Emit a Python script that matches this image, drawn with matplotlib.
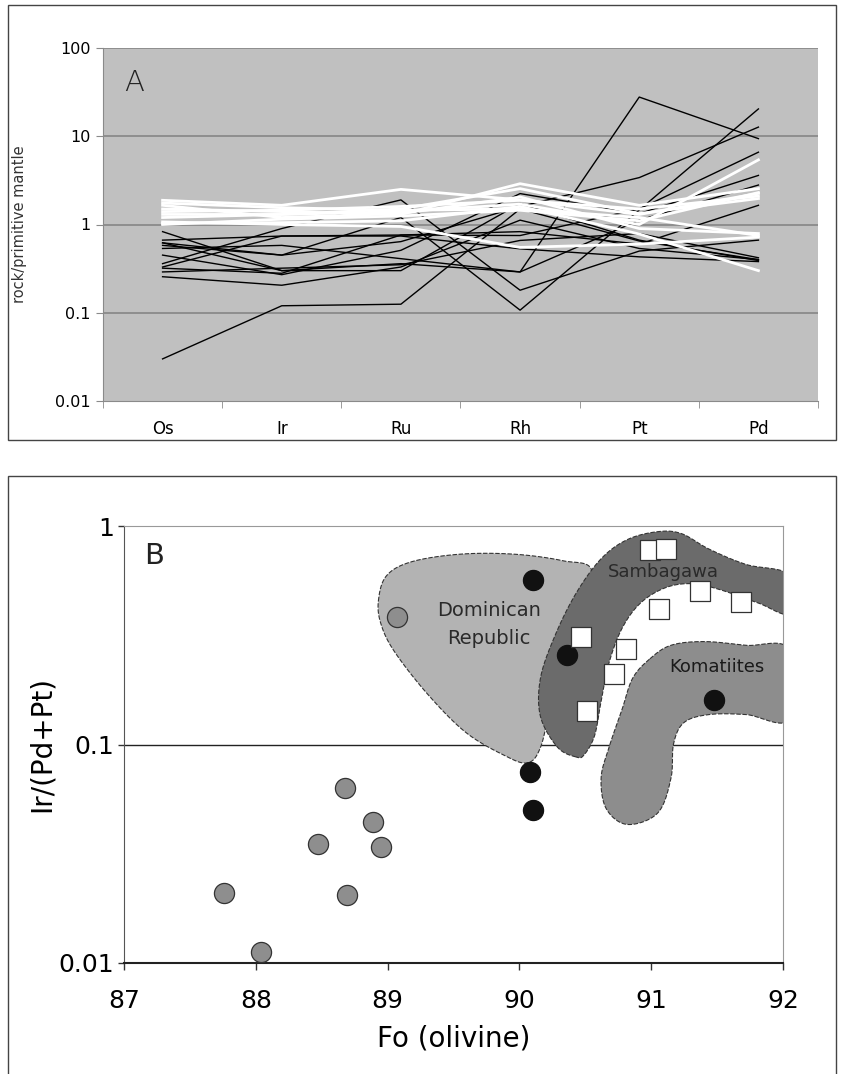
import numpy as np
import matplotlib
matplotlib.use("Agg")
import matplotlib.pyplot as plt
from matplotlib.patches import Polygon, Rectangle

# ---------------- Panel A data ----------------
elements = ["Os", "Ir", "Ru", "Rh", "Pt", "Pd"]
black_lines = [
    [0.03, 0.12, 0.125, 1.5, 0.65, 0.40],
    [0.83, 0.30, 0.36, 0.29, 27.8, 9.4],
    [0.36, 0.90, 1.90, 0.18, 0.50, 0.665],
    [0.62, 0.45, 1.20, 0.107, 1.46, 20.4],
    [0.58, 0.45, 0.64, 1.60, 3.40, 12.7],
    [0.665, 0.74, 0.76, 0.75, 1.50, 6.6],
    [0.45, 0.27, 0.51, 2.24, 1.33, 3.6],
    [0.535, 0.58, 0.41, 0.29, 1.12, 2.8],
    [0.32, 0.28, 0.76, 0.83, 0.60, 1.65],
    [0.29, 0.32, 0.35, 0.66, 0.79, 0.42],
    [0.256, 0.205, 0.33, 1.12, 0.535, 0.40],
    [0.33, 0.74, 0.74, 0.53, 0.43, 0.38],
    [0.62, 0.30, 0.30, 1.73, 0.665, 0.39],
]
white_lines = [
    [1.20, 1.30, 1.40, 1.70, 1.00, 5.4],
    [1.88, 1.65, 2.50, 1.90, 1.30, 2.25],
    [1.50, 1.40, 1.30, 2.90, 1.65, 2.55],
    [1.30, 1.30, 1.50, 2.55, 1.33, 1.97],
    [1.65, 1.20, 1.33, 2.05, 0.90, 0.79],
    [1.07, 1.00, 0.95, 0.55, 0.60, 0.72],
    [1.03, 1.05, 1.10, 1.60, 0.78, 0.30],
    [1.40, 1.45, 1.60, 1.88, 1.50, 2.10],
    [1.00, 1.15, 1.25, 1.45, 1.10, 2.30],
    [1.75, 1.55, 1.45, 1.50, 1.20, 0.75],
]
a_yticks = [0.01, 0.1, 1, 10, 100]
a_yticklabels = ["0.01", "0.1", "1", "10", "100"]

# ---------------- Panel B data ----------------
gray_fo = [89.07, 88.68, 88.89, 88.47, 88.95, 87.76, 88.69, 88.04]
gray_ratio = [0.385, 0.063, 0.044, 0.035, 0.034, 0.021, 0.0204, 0.0112]
black_fo = [90.10, 90.36, 90.08, 90.10, 91.48]
black_ratio = [0.567, 0.257, 0.0745, 0.0503, 0.160]
sq_fo = [90.99, 91.11, 91.37, 91.68, 91.06, 90.47, 90.81, 90.72, 90.51]
sq_ratio = [0.774, 0.784, 0.502, 0.450, 0.418, 0.312, 0.273, 0.211, 0.143]

# outline vertices of fields: (Fo, log10 ratio)
dominican_fo = [88.93, 88.99, 89.18, 89.55, 89.96, 90.33, 90.55, 90.45, 90.25,
                90.16, 90.06, 89.88, 89.59, 89.30, 89.05, 88.95]
dominican_log = [-0.344, -0.229, -0.164, -0.129, -0.129, -0.159, -0.206, -0.449,
                 -0.802, -1.013, -1.084, -1.048, -0.943, -0.767, -0.573, -0.449]
samba_fo = [90.43, 90.29, 90.16, 90.16, 90.27, 90.43, 90.62, 90.82, 91.05, 91.23,
            91.44, 91.72, 92.05, 92.05, 91.81, 91.52, 91.31, 91.11, 90.92, 90.78,
            90.68, 90.62, 90.57, 90.49]
samba_log = [-1.057, -1.013, -0.872, -0.696, -0.502, -0.308, -0.150, -0.062, -0.026,
             -0.035, -0.106, -0.176, -0.225, -0.400, -0.352, -0.291, -0.264, -0.282,
             -0.352, -0.467, -0.626, -0.802, -0.960, -1.048]
koma_fo = [90.99, 91.15, 91.40, 91.72, 92.05, 92.05, 91.72, 91.44, 91.25, 91.17,
           91.15, 91.05, 90.82, 90.66, 90.62, 90.68, 90.78, 90.86]
koma_log = [-0.608, -0.546, -0.529, -0.546, -0.566, -0.884, -0.863, -0.863, -0.899,
            -0.996, -1.154, -1.313, -1.366, -1.295, -1.154, -1.013, -0.837, -0.696]


def smooth_closed(xs, ys, n=20):
    p = np.column_stack([xs, ys])
    m = len(p)
    out = []
    for i in range(m):
        p0, p1, p2, p3 = p[(i - 1) % m], p[i], p[(i + 1) % m], p[(i + 2) % m]
        t = np.linspace(0, 1, n, endpoint=False)[:, None]
        seg = 0.5 * ((2 * p1) + (-p0 + p2) * t + (2 * p0 - 5 * p1 + 4 * p2 - p3) * t ** 2
                     + (-p0 + 3 * p1 - 3 * p2 + p3) * t ** 3)
        out.append(seg)
    out = np.vstack(out)
    return np.column_stack([out[:, 0], 10 ** out[:, 1]])


W, H = 849, 1074
fig = plt.figure(figsize=(W / 100, H / 100), dpi=100)
fig.patch.set_facecolor("white")

# panel frames
fig.add_artist(Rectangle((8 / W, 1 - 440 / H), 828 / W, 435 / H, transform=fig.transFigure,
                         fill=False, edgecolor="#444444", linewidth=1.0))
fig.add_artist(Rectangle((8 / W, -0.05), 828 / W, 0.05 + 1 - 476 / H, transform=fig.transFigure,
                         fill=False, edgecolor="#444444", linewidth=1.0))

narrow = ["Liberation Sans Narrow", "DejaVu Sans"]

# ---------------- Panel A ----------------
axA = fig.add_axes([103 / W, 1 - 401 / H, 715 / W, 353 / H])
axA.set_facecolor("#c0c0c0")
axA.set_yscale("log")
axA.set_ylim(0.01, 100)
axA.set_xlim(-0.5, 5.5)
for v in [0.1, 1, 10, 100]:
    axA.axhline(v, color="#8a8a8a", lw=1.3, zorder=1)
xpos = np.arange(len(elements))
for vals in black_lines:
    axA.plot(xpos, vals, color="black", lw=1.0, zorder=2)
for vals in white_lines:
    axA.plot(xpos, vals, color="white", lw=2.0, zorder=3)
axA.set_yticks(a_yticks)
axA.set_yticklabels(a_yticklabels, family=narrow, fontsize=11.5)
axA.yaxis.set_minor_locator(matplotlib.ticker.NullLocator())
axA.set_xticks(xpos)
axA.set_xticklabels(elements, family=narrow, fontsize=12)
axA.set_xticks(np.arange(-0.5, 6.0, 1.0), minor=True)
axA.tick_params(axis="x", which="major", length=0, pad=14)
axA.tick_params(axis="x", which="minor", length=5, color="#8a8a8a")
axA.tick_params(axis="y", length=5, color="#8a8a8a", pad=4)
for s in ["top", "right"]:
    axA.spines[s].set_visible(False)
for s in ["left", "bottom"]:
    axA.spines[s].set_color("#8a8a8a")
axA.set_ylabel("rock/primitive mantle", fontsize=10.5, color="#333333", labelpad=20)
axA.text(0.03, 0.90, "A", transform=axA.transAxes, fontsize=21, color="#222222",
         fontweight="light", va="center", ha="left")

# ---------------- Panel B ----------------
axB = fig.add_axes([124 / W, 1 - 963 / H, 659 / W, 437 / H])
axB.set_yscale("log")
axB.set_ylim(0.01, 1)
axB.set_xlim(87, 92)
axB.axhline(0.1, color="#222222", lw=1.0, zorder=1)

axB.add_patch(Polygon(smooth_closed(dominican_fo, dominican_log), closed=True,
                      facecolor="#b3b3b3", edgecolor="#333333", lw=0.8,
                      linestyle=(0, (4, 1.5)), zorder=2))
axB.add_patch(Polygon(smooth_closed(samba_fo, samba_log), closed=True,
                      facecolor="#6b6b6b", edgecolor="#333333", lw=0.8,
                      linestyle=(0, (4, 1.5)), zorder=3))
axB.add_patch(Polygon(smooth_closed(koma_fo, koma_log), closed=True,
                      facecolor="#8d8d8d", edgecolor="#333333", lw=0.8,
                      linestyle=(0, (4, 1.5)), zorder=3))

axB.text(89.77, 0.41, "Dominican", fontsize=14, ha="center", va="center", color="#2a2a2a", zorder=4)
axB.text(89.77, 0.305, "Republic", fontsize=14, ha="center", va="center", color="#2a2a2a", zorder=4)
axB.text(91.09, 0.615, "Sambagawa", fontsize=13, ha="center", va="center", color="#2a2a2a", zorder=4)
axB.text(91.5, 0.226, "Komatiites", fontsize=13, ha="center", va="center", color="#1a1a1a", zorder=4)

axB.scatter(gray_fo, gray_ratio, s=210, facecolor="#8e8e8e", edgecolor="#333333",
            linewidths=0.9, zorder=5)
axB.scatter(black_fo, black_ratio, s=210, facecolor="#111111", edgecolor="#111111",
            linewidths=0.9, zorder=5)
axB.scatter(sq_fo, sq_ratio, s=210, marker="s", facecolor="white", edgecolor="#333333",
            linewidths=0.9, zorder=5)

axB.set_xticks([87, 88, 89, 90, 91, 92])
axB.set_xticklabels(["87", "88", "89", "90", "91", "92"], fontsize=18)
axB.set_yticks([0.01, 0.1, 1])
axB.set_yticklabels(["0.01", "0.1", "1"], fontsize=18)
axB.yaxis.set_minor_locator(matplotlib.ticker.NullLocator())
axB.tick_params(axis="x", length=5, width=1, color="#333333", pad=14)
axB.tick_params(axis="y", length=4, width=1, color="#333333", pad=3)
axB.spines["left"].set_color("#555555")
axB.spines["bottom"].set_color("#222222")
axB.spines["bottom"].set_linewidth(1.5)
axB.spines["top"].set_color("#999999")
axB.spines["right"].set_color("#999999")
axB.set_xlabel("Fo (olivine)", fontsize=20, labelpad=8)
axB.set_ylabel("Ir/(Pd+Pt)", fontsize=20, labelpad=2)
axB.text(87.15, 0.73, "B", fontsize=21, ha="left", va="center", color="#222222", zorder=6)

fig.savefig("out.png", dpi=100)
